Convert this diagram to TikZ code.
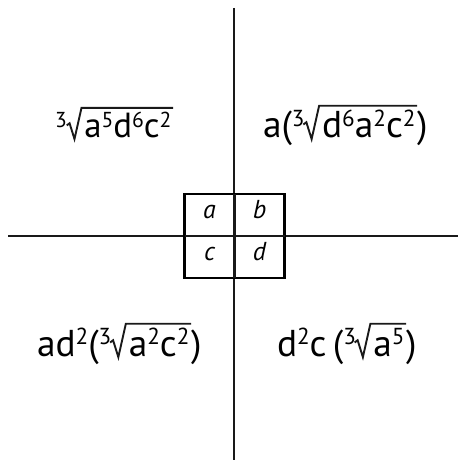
\documentclass[tikz,border=0pt]{standalone}
\usepackage{fontspec}
\setmainfont{PT Sans}
\usepackage{tikz}
\usetikzlibrary{positioning}
\newcommand{\sq}[1]{\raisebox{0.3em}{\fontsize{0.62em}{0.7em}\selectfont #1}}
% radical sign in front of node #1 (font size #2 bp), bar over it
\newcommand{\rootsign}[2]{\draw[radsign] ([xshift={-0.5*#2 bp},yshift={0.36*#2 bp}]#1.base west) -- ([xshift={-0.42*#2 bp},yshift={0.42*#2 bp}]#1.base west)
  -- ([xshift={-0.28*#2 bp},yshift={-0.03*#2 bp}]#1.base west) -- ([xshift={-0.08*#2 bp},yshift={0.86*#2 bp}]#1.base west) -- ([xshift=1.6bp,yshift={0.86*#2 bp}]#1.base east);}
\tikzset{
  axis/.style={line width=2.3bp,draw=black!90},
  cell/.style={draw,line width=2.3bp,minimum width=50bp,minimum height=42bp,outer sep=0pt,inner sep=0pt,
    text height=0.72em,text depth=0pt,font=\fontsize{26}{30}\selectfont\itshape},
  term/.style={anchor=base west,inner sep=0pt,outer sep=0pt,font=\fontsize{37.5}{44}\selectfont},
  small term/.style={term,font=\fontsize{35}{42}\selectfont},
  radsign/.style={line width=1.9bp,line join=miter,draw=black!90},
}
\begin{document}
\begin{tikzpicture}[x=1bp,y=-1bp]
\useasboundingbox (0,0) rectangle (458,460);
% axes
\coordinate (top) at (234,8);
\coordinate (bot) at (234,460);
\coordinate (left) at (8,236);
\coordinate (right) at (458,236);
\draw[axis] (top) -- (bot);
\draw[axis] (left) -- (right);
% the square
\node[cell,fill=white] (a) at (209.5,215) {a};
\node[cell,fill=white,right=0pt of a] (b) {b};
\node[cell,fill=white,below=0pt of a] (c) {c};
\node[cell,fill=white,right=0pt of c] (d) {d};
\draw[axis] (a.north east) -- (c.south east);
\draw[axis] (a.south west) -- (b.south east);
% top left term
\node[small term] (tl3) at (55,138) {\sq3};
\node[small term] (tlr) at ([xshift=17.5bp]tl3.base east) {a\sq5d\sq6c\sq2};
\rootsign{tlr}{35}
% top right term
\node[term] (trp) at (263,138) {a(};
\node[term] (tr3) at (trp.base east) {\sq3};
\node[term] (trr) at ([xshift=17.5bp]tr3.base east) {d\sq6a\sq2c\sq2};
\node[term] (trq) at ([xshift=1.6bp]trr.base east) {)};
\rootsign{trr}{37.5}
% bottom left term
\node[term] (blp) at (37,356) {ad\sq2(};
\node[term] (bl3) at (blp.base east) {\sq3};
\node[term] (blr) at ([xshift=17.5bp]bl3.base east) {a\sq2c\sq2};
\node[term] (blq) at ([xshift=1.6bp]blr.base east) {)};
\rootsign{blr}{37.5}
% bottom right term
\node[term] (brp) at (277,356) {d\sq2c\,(};
\node[term] (br3) at (brp.base east) {\sq3};
\node[term] (brr) at ([xshift=17.5bp]br3.base east) {a\sq5};
\node[term] (brq) at ([xshift=1.6bp]brr.base east) {)};
\rootsign{brr}{37.5}
\end{tikzpicture}
\end{document}
